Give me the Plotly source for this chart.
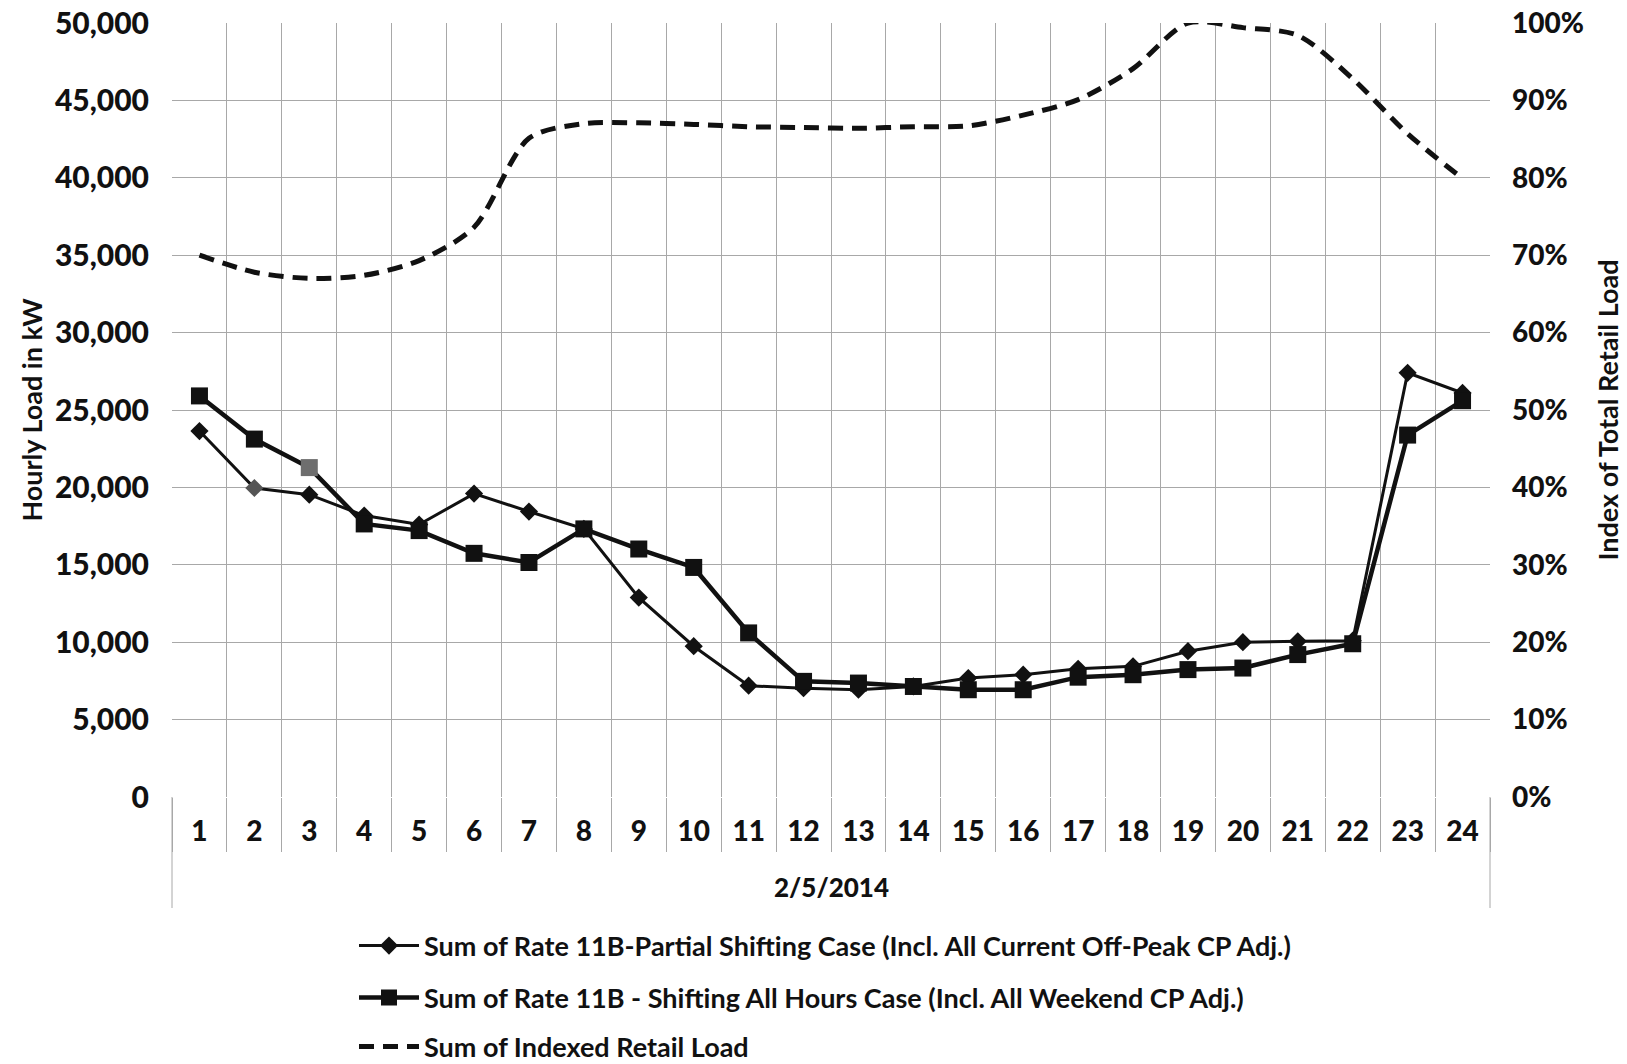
import plotly.graph_objects as go

# Hourly load profile for one day (kW) and indexed retail load (share of peak)
day_label = "2/5/2014"
hours = [str(h) for h in range(1, 25)]

partial_shift_kw = [23640, 19960, 19530, 18180, 17600, 19600, 18440, 17320,
                    12880, 9740, 7190, 7030, 6930, 7140, 7680, 7900,
                    8280, 8440, 9420, 10000, 10060, 10100, 27400, 26100]

all_hours_shift_kw = [25910, 23120, 21280, 17640, 17210, 15740, 15150, 17320,
                      16020, 14830, 10600, 7470, 7360, 7140, 6930, 6930,
                      7740, 7900, 8230, 8330, 9200, 9900, 23380, 25600]

retail_index = [0.700, 0.678, 0.670, 0.674, 0.693, 0.736, 0.851, 0.870,
                0.871, 0.869, 0.866, 0.865, 0.864, 0.866, 0.867, 0.881,
                0.901, 0.941, 1.000, 0.994, 0.984, 0.928, 0.857, 0.799]

left_ticks = list(range(0, 50001, 5000))
right_ticks = [i / 10 for i in range(0, 11)]

names = [
    "Sum of Rate 11B-Partial Shifting Case (Incl. All Current Off-Peak CP Adj.)",
    "Sum of Rate 11B - Shifting All Hours Case (Incl. All Weekend CP Adj.)",
    "Sum of Indexed Retail Load",
]

FONT = "Lato"
INK = "#111111"
GRID = "#a8a8a8"

# plot-area geometry in pixels
W, H = 1627, 1064
L, R, T, B = 172, 137, 23, 267
PLOT_H = H - T - B


def paper_y(px_below_axis):
    """Paper y coordinate for a point px_below_axis pixels under the x axis."""
    return -px_below_axis / PLOT_H


# a couple of markers print lighter than the rest
diamond_colors = [INK] * 24
diamond_colors[1] = "#555555"
square_colors = [INK] * 24
square_colors[2] = "#6e6e6e"

fig = go.Figure()

fig.add_trace(go.Scatter(
    x=hours, y=partial_shift_kw, name=names[0], mode="lines+markers",
    line=dict(color=INK, width=3),
    marker=dict(symbol="diamond", size=14, color=diamond_colors),
    legend="legend",
))

fig.add_trace(go.Scatter(
    x=hours, y=all_hours_shift_kw, name=names[1], mode="lines+markers",
    line=dict(color=INK, width=4.5),
    marker=dict(symbol="square", size=17, color=square_colors),
    legend="legend2",
))

fig.add_trace(go.Scatter(
    x=hours, y=retail_index, name=names[2], mode="lines", yaxis="y2",
    line=dict(color=INK, width=5, dash="15px,9px", shape="spline", smoothing=0.8),
    legend="legend3",
))

bold = dict(family=FONT, color=INK, weight="bold")
heavy = dict(family=FONT, color=INK, weight=900)

# outer frame lines of the date group under the hour labels
shapes = [
    dict(type="line", xref="paper", yref="paper", x0=xp, x1=xp,
         y0=0, y1=paper_y(111), line=dict(color=GRID, width=1), layer="below")
    for xp in (0, 1)
]


def legend_row(px_below_axis):
    return dict(
        x=(354 - L) / (W - L - R), xanchor="left",
        y=paper_y(px_below_axis), yanchor="middle",
        font=dict(size=27, **bold),
        itemwidth=60, bgcolor="rgba(0,0,0,0)",
    )


fig.update_layout(
    width=W, height=H,
    margin=dict(l=L, r=R, t=T, b=B, autoexpand=False),
    paper_bgcolor="white", plot_bgcolor="white",
    font=dict(family=FONT, color=INK),
    showlegend=True,
    legend=legend_row(149),
    legend2=legend_row(201),
    legend3=legend_row(250),
    shapes=shapes,
    annotations=[dict(
        text=day_label, xref="paper", yref="paper", x=0.5, y=paper_y(90),
        xanchor="center", yanchor="middle", showarrow=False,
        font=dict(size=26, **heavy),
    )],
    xaxis=dict(
        type="category", range=[-0.5, len(hours) - 0.5],
        tickfont=dict(size=28, **heavy),
        showgrid=True, gridcolor=GRID, gridwidth=1,
        tickson="boundaries", ticks="outside", ticklen=54,
        tickcolor=GRID, tickwidth=1, ticklabelstandoff=15,
        showline=False, zeroline=False, automargin=False,
    ),
    yaxis=dict(
        range=[0, 50000], tickvals=left_ticks, tickformat=",",
        tickfont=dict(size=30, **heavy), ticklabelstandoff=22,
        showgrid=True, gridcolor=GRID, gridwidth=1,
        zeroline=False, showline=False, automargin=False,
        title=dict(text="Hourly Load in kW", standoff=4,
                   font=dict(size=27, **bold)),
    ),
    yaxis2=dict(
        range=[0, 1], tickvals=right_ticks, tickformat=".0%",
        overlaying="y", side="right",
        tickfont=dict(size=28, **heavy), ticklabelstandoff=21,
        showgrid=False, zeroline=False, showline=False, automargin=False,
        title=dict(text="Index of Total Retail Load", standoff=16,
                   font=dict(size=27, **bold)),
    ),
)

fig.write_html("out.html")
